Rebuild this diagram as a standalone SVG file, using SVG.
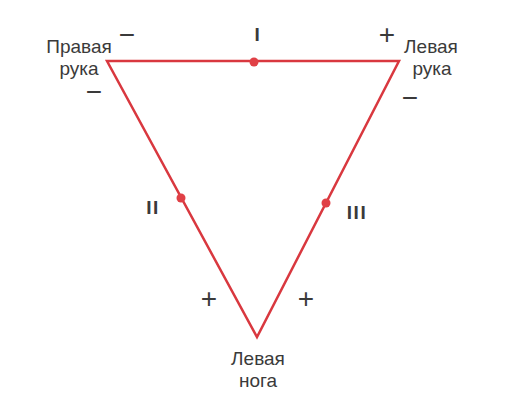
<svg xmlns="http://www.w3.org/2000/svg" width="511" height="400" viewBox="0 0 511 400">
<style>
.t{font-family:"Liberation Sans",Arial,sans-serif;font-size:19px;fill:#3a3a3a;text-anchor:middle}
.s{font-family:"Liberation Sans",Arial,sans-serif;font-size:28px;fill:#3a3a3a;text-anchor:middle}
.r{font-family:"Liberation Sans",Arial,sans-serif;font-size:19px;font-weight:bold;fill:#3a3a3a;text-anchor:middle;letter-spacing:1.5px}
.e{stroke:#d9383f;stroke-width:2.5;fill:none;stroke-linejoin:miter}
.d{fill:#e04046}
</style>
<rect width="511" height="400" fill="#fff"/>
<g id="connectors">
<path class="e" d="M107,61 L399,61 L257,337 Z"/>
</g>
<g id="node-right-arm">
<text class="t" x="79" y="53">Правая</text>
<text class="t" x="79" y="75">рука</text>
<text class="s" x="127" y="44">−</text>
<text class="s" x="94" y="101">−</text>
</g>
<g id="node-left-arm">
<text class="t" x="431" y="53">Левая</text>
<text class="t" x="432" y="75">рука</text>
<text class="s" x="387" y="44">+</text>
<text class="s" x="410" y="107">−</text>
</g>
<g id="node-left-leg">
<text class="t" x="258" y="365">Левая</text>
<text class="t" x="258" y="387">нога</text>
<text class="s" x="209" y="308">+</text>
<text class="s" x="306" y="308">+</text>
</g>
<g id="lead-I">
<circle class="d" cx="254" cy="62" r="4.5"/>
<text class="r" x="258" y="41">I</text>
</g>
<g id="lead-II">
<circle class="d" cx="181" cy="198" r="4.5"/>
<text class="r" x="153" y="214">II</text>
</g>
<g id="lead-III">
<circle class="d" cx="326" cy="203" r="4.5"/>
<text class="r" x="357" y="219">III</text>
</g>
</svg>
